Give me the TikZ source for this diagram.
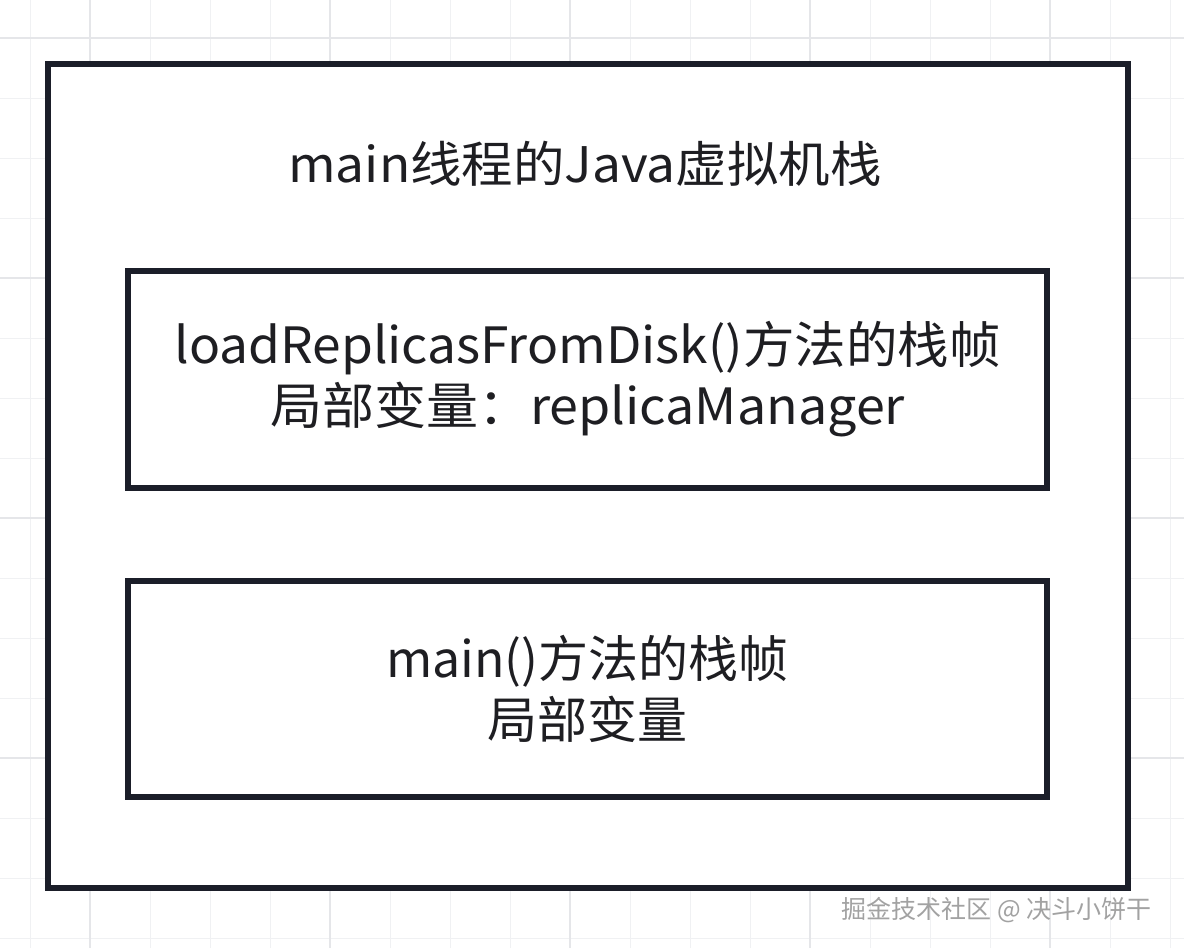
\documentclass[tikz,border=0pt]{standalone}
\usepackage{fontspec}
\usepackage{graphicx}
\setmainfont{Noto Sans CJK SC}
\definecolor{gridminor}{HTML}{F0F1F3}
\definecolor{gridmajor}{HTML}{E5E6E9}
\definecolor{boxline}{HTML}{1B1E29}
\definecolor{txt}{HTML}{1E1E22}
\definecolor{wm}{HTML}{A2A2A2}
\tikzset{
  gridthin/.style={draw=gridminor, line width=0.5pt},
  gridthick/.style={draw=gridmajor, line width=0.7pt},
  framebox/.style={draw=boxline, line width=3pt, fill=white, inner sep=0pt, outer sep=0pt,
     text=txt, align=center, font=\fontsize{25pt}{30.5pt}\selectfont},
  labeltext/.style={text=txt, inner sep=0pt, font=\fontsize{24.5pt}{30pt}\selectfont},
  wmtext/.style={text=wm, inner sep=0pt, font=\fontsize{12.5pt}{15pt}\selectfont}
}
\begin{document}
\begin{tikzpicture}[x=0.5pt,y=-0.5pt]
\useasboundingbox (0,0) rectangle (1184,948);
\fill[white] (0,0) rectangle (1184,948);
\foreach \gx in {30,90,...,1170} \draw[gridthin] (\gx,0) -- (\gx,948);
\foreach \gy in {38,98,...,938} \draw[gridthin] (0,\gy) -- (1184,\gy);
\foreach \gx in {90,330,...,1050} \draw[gridthick] (\gx,0) -- (\gx,948);
\foreach \gy in {38,278,...,758} \draw[gridthick] (0,\gy) -- (1184,\gy);
\node[framebox, minimum width=540pt, minimum height=412pt] (outer) at (588,476) {};
\node[labeltext] (title) at (585,164) {\scalebox{1.05}[1]{main线程的Java虚拟机栈}};
\node[framebox, minimum width=459.5pt, minimum height=108.5pt] (frame1) at (587.5,379.5)
  {\scalebox{1.03}[1]{loadReplicasFromDisk()方法的栈帧}\\\scalebox{1.04}[1]{局部变量：replicaManager}};
\node[framebox, minimum width=459.5pt, minimum height=108pt] (frame2) at (587.5,689)
  {main()方法的栈帧\\局部变量};
\node[wmtext, anchor=east] (watermark) at (1152,910) {掘金技术社区 @ 决斗小饼干};
\end{tikzpicture}
\end{document}
